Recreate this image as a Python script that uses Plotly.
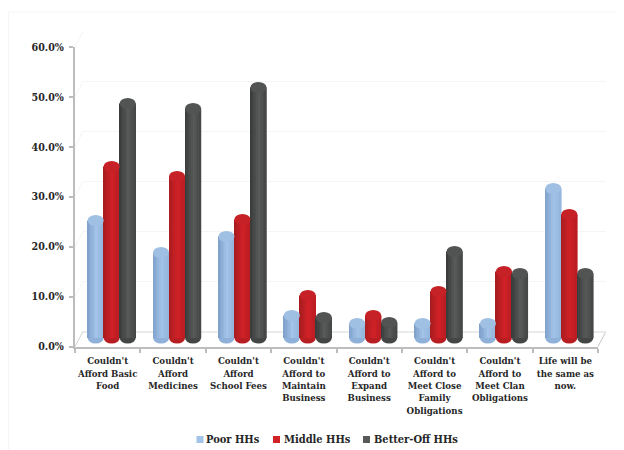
import plotly.graph_objects as go

categories = [
    "Couldn't<br>Afford Basic<br>Food",
    "Couldn't<br>Afford<br>Medicines",
    "Couldn't<br>Afford<br>School Fees",
    "Couldn't<br>Afford to<br>Maintain<br>Business",
    "Couldn't<br>Afford to<br>Expand<br>Business",
    "Couldn't<br>Afford to<br>Meet Close<br>Family<br>Obligations",
    "Couldn't<br>Afford to<br>Meet Clan<br>Obligations",
    "Life will be<br>the same as<br>now.",
]
poor_hhs = [23.5, 17.1, 20.3, 4.5, 2.9, 2.9, 2.9, 29.9]
middle_hhs = [34.3, 32.3, 23.7, 8.5, 4.5, 9.3, 13.3, 24.7]
better_off_hhs = [46.9, 45.9, 50.1, 4.1, 3.1, 17.3, 12.9, 12.9]
series_names = ["Poor HHs", "Middle HHs", "Better-Off HHs"]
series_values = [poor_hhs, middle_hhs, better_off_hhs]

# the page keeps an 8 px body margin, so the figure is 8 px smaller each way
PAGE = 8
W, H = 624 - PAGE, 450 - PAGE
FONT = "DejaVu Serif Condensed, DejaVu Serif, serif"
TEXT = "#262626"

# colours of each cylinder: left edge, middle, right edge, cap, base
styles = [
    ("#7d9fc8", "#a3c3e8", "#93b5dc", "#9fbfe3", "#8fb0d8"),
    ("#a51b1f", "#d02127", "#b81d22", "#c52126", "#b81d22"),
    ("#383a3a", "#585a5a", "#444646", "#525454", "#444646"),
]


def hex2rgb(c):
    return [int(c[i:i + 2], 16) for i in (1, 3, 5)]


def mix(a, b, t):
    ra, rb = hex2rgb(a), hex2rgb(b)
    return "rgb(%d,%d,%d)" % tuple(round(x + (y - x) * t) for x, y in zip(ra, rb))


def px_x(x):
    return (x - PAGE) / W


def px_y(y):
    return 1 - (y - PAGE) / H


def hline(x0, y0, x1, y1, color, width=1):
    return dict(type="line", xref="paper", yref="paper", x0=px_x(x0), y0=px_y(y0),
                x1=px_x(x1), y1=px_y(y1), line=dict(color=color, width=width), layer="below")


FRONT_L, FRONT_R, FRONT_T, FRONT_B = 75, 598, 47, 346.5
DX, DY = 8, 15

fig = go.Figure()
idx = list(range(len(categories)))

# back wall (drawn first)
fig.add_trace(go.Scatter(x=[0], y=[0], mode="none", xaxis="x", yaxis="y",
                         showlegend=False, hoverinfo="skip"))

# cylinders
CAT_PX = (FRONT_R - FRONT_L) / len(categories)
cyl_w = 16.0 / CAT_PX
n_strips = 10
strip_w = cyl_w / n_strips
shapes = []
for s, (name, vals) in enumerate(zip(series_names, series_values)):
    edge_l, mid, edge_r, cap, base = styles[s]
    left = -1.5 * cyl_w + s * cyl_w
    fig.add_trace(go.Bar(x=idx, y=vals, name=name, width=cyl_w, offset=left, marker_color=mid,
                         marker_line_width=0, xaxis="x2", yaxis="y2", showlegend=False))
    for k in range(n_strips):
        t = (k + 0.5) / n_strips
        col = mix(edge_l, mid, t / 0.55) if t < 0.55 else mix(mid, edge_r, (t - 0.55) / 0.45)
        fig.add_trace(go.Bar(x=idx, y=vals, width=strip_w * 1.08, offset=left + k * strip_w,
                             marker_color=col, marker_line_width=0, xaxis="x2", yaxis="y2",
                             showlegend=False, hoverinfo="skip"))
    for i, v in zip(idx, vals):
        for yc, col, layer in ((v, cap, "above"), (0, base, "below")):
            shapes.append(dict(type="circle", xref="x2", yref="y2", layer=layer,
                               x0=i + left, x1=i + left + cyl_w, y0=yc - 1.1, y1=yc + 1.1,
                               fillcolor=col, line_width=0))

# front axes with labels
fig.add_trace(go.Bar(x=categories, y=poor_hhs, opacity=0, xaxis="x3", yaxis="y3",
                     showlegend=False, hoverinfo="skip"))

# walls, floor, frame
for v in range(0, 61, 10):
    y = FRONT_B - v * 5
    color = "#d0d0d0" if v == 0 else "#f4f4f4"
    shapes.append(hline(FRONT_L, y, FRONT_L + DX, y - DY, color))
shapes.append(hline(FRONT_R, FRONT_B, FRONT_R + DX, FRONT_B - DY, "#c4c4c4"))
shapes.append(hline(8, 12, 624, 12, "#f6f6f6"))
shapes.append(hline(8.5, 12, 8.5, 450, "#f6f6f6"))

# legend
legend_items = [(196.5, 205), (273, 283), (363, 373)]
annotations = []
for (sx, tx), name, st in zip(legend_items, series_names, styles):
    shapes.append(dict(type="rect", xref="paper", yref="paper", x0=px_x(sx), x1=px_x(sx + 7),
                       y0=px_y(443), y1=px_y(436), fillcolor=st[1], line_width=0))
    annotations.append(dict(xref="paper", yref="paper", x=px_x(tx), y=px_y(439.5), text=name,
                            showarrow=False, xanchor="left", yanchor="middle", xshift=-1,
                            font=dict(family=FONT, size=11, color=TEXT, weight=700)))

tick_font = dict(family=FONT, size=9.6, color=TEXT, weight=700)
y_tick_font = dict(family=FONT, size=10.6, color=TEXT, weight=700)
fig.update_layout(
    width=W, height=H, autosize=False, margin=dict(l=0, r=0, t=0, b=0),
    paper_bgcolor="white", plot_bgcolor="rgba(0,0,0,0)",
    barmode="overlay", showlegend=False, shapes=shapes, annotations=annotations,
    # back wall
    xaxis=dict(domain=[px_x(FRONT_L + DX), px_x(FRONT_R + DX)], range=[-0.5, 7.5],
               visible=False, anchor="y", automargin=False),
    yaxis=dict(domain=[px_y(FRONT_B - DY), px_y(FRONT_T - DY)], range=[0, 60], dtick=10,
               showgrid=True, gridcolor="#f5f5f5", gridwidth=1, zeroline=True,
               zerolinecolor="#ebebeb", showticklabels=False, showline=False, ticks="", anchor="x",
               automargin=False),
    # cylinders
    xaxis2=dict(domain=[px_x(FRONT_L + 4), px_x(FRONT_R + 4)], range=[-0.5, 7.5],
                visible=False, anchor="y2", automargin=False),
    yaxis2=dict(domain=[px_y(348), px_y(38)], range=[-2, 60], visible=False, anchor="x2",
                automargin=False),
    # front axes
    xaxis3=dict(domain=[px_x(FRONT_L), px_x(FRONT_R)], type="category",
                categoryorder="array", categoryarray=categories, range=[-0.5, 7.5],
                tickson="boundaries", ticks="outside", ticklen=4, tickcolor="#bdbdbd", tickwidth=1.5,
                showline=True, linecolor="#bdbdbd", linewidth=2, showgrid=False, tickangle=0,
                tickfont=tick_font, ticklabelstandoff=4, anchor="y3", automargin=False),
    yaxis3=dict(domain=[px_y(FRONT_B), px_y(FRONT_T)], range=[0, 60], dtick=10, tickformat=".1f",
                ticksuffix="%", ticks="outside", ticklen=4, tickcolor="#bdbdbd", tickwidth=1.5,
                showline=True, linecolor="#bdbdbd", linewidth=2, showgrid=False, zeroline=False,
                tickfont=y_tick_font, ticklabelstandoff=3, anchor="x3", automargin=False),
)

fig.write_html("out.html")
